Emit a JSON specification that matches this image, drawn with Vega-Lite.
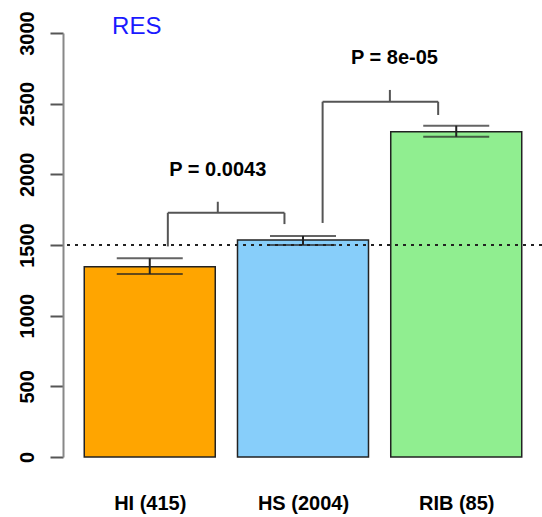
{
  "$schema": "https://vega.github.io/schema/vega-lite/v6.json",
  "width": 479,
  "height": 424,
  "autosize": {"type": "none"},
  "padding": {"left": 63, "top": 33, "right": 0, "bottom": 60},
  "background": "white",
  "config": {
    "view": {"stroke": null},
    "font": "Liberation Sans",
    "axis": {"grid": false, "titleFontSize": 0}
  },
  "datasets": {
    "bars": [
      {"group": "HI (415)", "pos": 1, "mean": 1346, "lo": 1295, "hi": 1406, "color": "HI"},
      {"group": "HS (2004)", "pos": 2, "mean": 1535, "lo": 1500, "hi": 1564, "color": "HS"},
      {"group": "RIB (85)", "pos": 3, "mean": 2301, "lo": 2266, "hi": 2344, "color": "RIB"}
    ],
    "segments": [
      {"xa": 1.118, "xb": 1.118, "ya": 1490, "yb": 1728},
      {"xa": 1.118, "xb": 1.879, "ya": 1728, "yb": 1728},
      {"xa": 1.879, "xb": 1.879, "ya": 1648, "yb": 1728},
      {"xa": 1.444, "xb": 1.444, "ya": 1728, "yb": 1806},
      {"xa": 2.128, "xb": 2.128, "ya": 1656, "yb": 2514},
      {"xa": 2.128, "xb": 2.882, "ya": 2514, "yb": 2514},
      {"xa": 2.882, "xb": 2.882, "ya": 2420, "yb": 2514},
      {"xa": 2.567, "xb": 2.567, "ya": 2514, "yb": 2597}
    ],
    "pvals": [
      {"label": "P = 0.0043", "x": 1.444, "y": 2030},
      {"label": "P = 8e-05", "x": 2.597, "y": 2823}
    ],
    "title": [{"label": "RES", "x": 0.754, "y": 3042}],
    "ref": [{"y": 1500}]
  },
  "layer": [
    {
      "data": {"name": "bars"},
      "mark": {"type": "bar", "width": 131, "stroke": "#222222", "strokeWidth": 1.5},
      "encoding": {
        "x": {
          "field": "pos", "type": "quantitative",
          "scale": {"domain": [0.4665, 3.527], "nice": false, "zero": false},
          "axis": {
            "values": [1, 2, 3],
            "title": null,
            "domain": false,
            "ticks": false,
            "tickSize": 0,
            "labelPadding": 36,
            "labelFontSize": 20,
            "labelFontWeight": "bold",
            "labelColor": "#000000",
            "labelBaseline": "top",
            "labelExpr": "datum.value == 1 ? 'HI (415)' : datum.value == 2 ? 'HS (2004)' : 'RIB (85)'"
          }
        },
        "y": {
          "field": "mean", "type": "quantitative",
          "scale": {"domain": [0, 3000], "nice": false},
          "axis": {
            "values": [0, 500, 1000, 1500, 2000, 2500, 3000],
            "format": "d",
            "title": null,
            "domainColor": "#888888",
            "domainWidth": 2,
            "tickColor": "#555555",
            "tickWidth": 2,
            "tickSize": 13,
            "labelAngle": 270,
            "labelAlign": "center",
            "labelBaseline": "bottom",
            "labelPadding": 13,
            "labelFontSize": 20,
            "labelFontWeight": "bold",
            "labelColor": "#000000"
          }
        },
        "color": {
          "field": "color", "type": "nominal",
          "scale": {"domain": ["HI", "HS", "RIB"], "range": ["#FFA500", "#87CEFA", "#90EE90"]},
          "legend": null
        }
      }
    },
    {
      "data": {"name": "bars"},
      "mark": {"type": "rule", "color": "#222222", "strokeWidth": 2},
      "encoding": {
        "x": {"field": "pos", "type": "quantitative"},
        "y": {"field": "lo", "type": "quantitative"},
        "y2": {"field": "hi"}
      }
    },
    {
      "data": {"name": "bars"},
      "mark": {"type": "tick", "orient": "horizontal", "size": 66, "thickness": 2, "color": "#222222"},
      "encoding": {
        "x": {"field": "pos", "type": "quantitative"},
        "y": {"field": "lo", "type": "quantitative"}
      }
    },
    {
      "data": {"name": "bars"},
      "mark": {"type": "tick", "orient": "horizontal", "size": 66, "thickness": 2, "color": "#222222"},
      "encoding": {
        "x": {"field": "pos", "type": "quantitative"},
        "y": {"field": "hi", "type": "quantitative"}
      }
    },
    {
      "data": {"name": "ref"},
      "mark": {"type": "rule", "color": "#222222", "strokeWidth": 2, "strokeDash": [3, 5]},
      "encoding": {"y": {"field": "y", "type": "quantitative"}}
    },
    {
      "data": {"name": "segments"},
      "mark": {"type": "rule", "color": "#555555", "strokeWidth": 2},
      "encoding": {
        "x": {"field": "xa", "type": "quantitative"},
        "x2": {"field": "xb"},
        "y": {"field": "ya", "type": "quantitative"},
        "y2": {"field": "yb"}
      }
    },
    {
      "data": {"name": "pvals"},
      "mark": {"type": "text", "fontSize": 20, "fontWeight": "bold", "align": "center", "baseline": "middle", "color": "#000000"},
      "encoding": {
        "x": {"field": "x", "type": "quantitative"},
        "y": {"field": "y", "type": "quantitative"},
        "text": {"field": "label"}
      }
    },
    {
      "data": {"name": "title"},
      "mark": {"type": "text", "fontSize": 24, "align": "left", "baseline": "middle", "color": "#1A1AFF", "clip": false},
      "encoding": {
        "x": {"field": "x", "type": "quantitative"},
        "y": {"field": "y", "type": "quantitative"},
        "text": {"field": "label"}
      }
    }
  ]
}
